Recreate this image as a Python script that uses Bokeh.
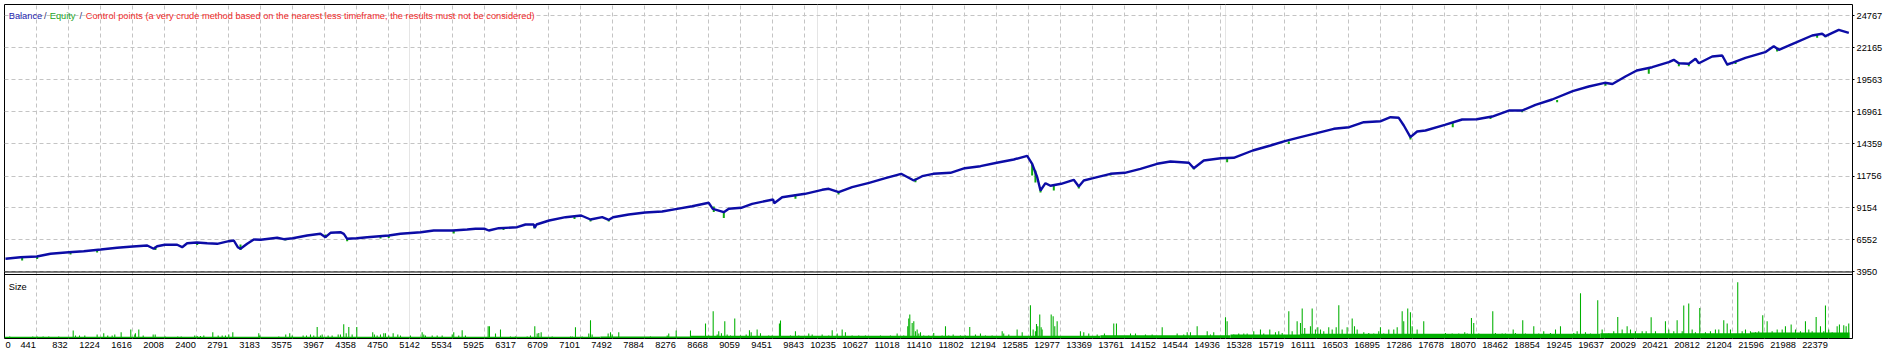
from bokeh.plotting import figure
from bokeh.models import Range1d, FixedTicker, Span, Label, Grid, LinearAxis
from bokeh.embed import file_html
from bokeh.resources import INLINE

# ---------------- data ----------------
x_tick_values = [441, 832, 1224, 1616, 2008, 2400, 2791, 3183, 3575, 3967, 4358, 4750, 5142,
                 5534, 5925, 6317, 6709, 7101, 7492, 7884, 8276, 8668, 9059, 9451, 9843, 10235,
                 10627, 11018, 11410, 11802, 12194, 12585, 12977, 13369, 13761, 14152, 14544,
                 14936, 15328, 15719, 16111, 16503, 16895, 17286, 17678, 18070, 18462, 18854,
                 19245, 19637, 20029, 20421, 20812, 21204, 21596, 21988, 22379]
x_tick_labels = [str(v) for v in x_tick_values]
y_tick_values = [3950, 6552, 9154, 11756, 14359, 16961, 19563, 22165, 24767]
y_tick_labels = ["3950", "6552", "9154", "11756", "14359", "16961", "19563", "22165", "24767"]

balance_trade = [58, 241, 441, 609, 833, 1016, 1224, 1425, 1616, 1793, 1873, 1915, 2008, 2160, 2221,
                 2282, 2400, 2527, 2650, 2792, 2853, 2902, 2935, 3017, 3098, 3183, 3384, 3465, 3575,
                 3751, 3914, 3975, 4037, 4159, 4200, 4241, 4359, 4486, 4750, 4894, 5142, 5301, 5534,
                 5710, 5812,
                 5926, 5975, 6097, 6322, 6424, 6525, 6538, 6559, 6714, 6914, 7106, 7220, 7363, 7444,
                 7497, 7688, 7889, 8097, 8281, 8465, 8668, 8717, 8852, 8913, 9065, 9199, 9456, 9469,
                 9566, 9848, 10056, 10137, 10259, 10423, 10631, 10831, 11023, 11178, 11280, 11415, 11627,
                 11802, 11994, 12194, 12402, 12566, 12627, 12689, 12729, 12790, 12851, 12982, 13136,
                 13198, 13259, 13374, 13586, 13761, 13953, 14157, 14320, 14545, 14606, 14728, 14936,
                 15095, 15328, 15545, 15720, 15912, 16111, 16320, 16508, 16687, 16895, 17014, 17115,
                 17177, 17258, 17340, 17442,
                 17679, 17891, 18070, 18259, 18462, 18626, 18789, 18993, 19245, 19441, 19637, 19731,
                 19890, 20029, 20218, 20421, 20482, 20543, 20666, 20748, 20789, 20952, 21075, 21136,
                 21205, 21359, 21601, 21706, 21768, 21988, 22176, 22299, 22339, 22502, 22625]
balance_value = [5023, 5153, 5210, 5430, 5560, 5641, 5779, 5917, 6023, 6105, 5836, 6048, 6162, 6162, 5966,
                 6291, 6349, 6291, 6243, 6454, 6511, 5966, 5836, 6243, 6593, 6568, 6731, 6617, 6698,
                 6918, 7056, 6779, 7137, 7186, 7056, 6649, 6698, 6779, 6918, 7056, 7186, 7324, 7324,
                 7406, 7462,
                 7462, 7324, 7512, 7593, 7812, 7812, 7544, 7812, 8137, 8406, 8544, 8219, 8406, 8194,
                 8406, 8625, 8788, 8869, 9088, 9300, 9577, 9088, 8812, 9088, 9170, 9495, 9845, 9544,
                 10032, 10309, 10634, 10715, 10439, 10845, 11203, 11577, 11935, 11390, 11740, 11935, 12016,
                 12390, 12553, 12830, 13098, 13399, 12748, 11658, 10577, 11171, 10959, 11122, 11447,
                 10902, 11390, 11577, 11935, 12016, 12341, 12748, 12935, 12830, 12390, 13016, 13203,
                 13236, 13830, 14236, 14586, 14911, 15236, 15594, 15724, 16131, 16212, 16537, 16489,
                 15862, 14911, 15375, 15456,
                 15919, 16350, 16375, 16594, 17082, 17082, 17546, 17977, 18652, 19034, 19335, 19237,
                 19847, 20335, 20603, 21010, 21205, 20928, 20880, 21286, 20928, 21473, 21555, 20823,
                 20985, 21368, 21823, 22311, 22018, 22636, 23181, 23319, 23124, 23644, 23400]

equity_trade = [262, 446, 854, 1180, 1894, 2405, 2935, 3486, 3975, 4241, 4649, 4750, 5546, 6155, 6534,
                7024, 7220, 7444, 8729, 8852, 9729, 10256, 11198, 12627, 12667, 12729, 12892, 13198,
                13586, 14606, 15014, 15769, 17258, 17776, 18238, 18626, 19054, 19646, 20176, 20544,
                20666, 21136, 21238, 21747, 22237, 22339]
equity_high = [5169, 5210, 5576, 5739, 6023, 6349, 6186, 6714, 6999, 6714, 6877, 6918, 7324, 7528, 7812,
               8503, 8219, 8219, 9276, 8869, 10252, 10496, 11553, 12772, 12203, 10658, 11024, 10984,
               11919, 12447, 13220, 14561, 14968, 16106, 16554, 17082, 17936, 19359, 20538, 20985,
               20863, 20904, 21026, 22164, 23262, 23222]
equity_low = [4885, 5007, 5373, 5535, 5739, 6145, 5739, 6511, 6714, 6454, 6674, 6714, 7080, 7365, 7487,
              8259, 8056, 8056, 8829, 8341, 9902, 10252, 11252, 11797, 11227, 10414, 10577, 10740,
              11797, 12285, 12878, 14358, 14724, 15724, 16391, 16944, 17757, 19091, 20067, 20685,
              20685, 20741, 20863, 21880, 22994, 23043]

# typical (small) trade size per stretch of trades
base_start = [46, 7342, 8444, 13463, 15055, 15912, 19585, 21421]
base_end = [7342, 8444, 13463, 15055, 15912, 19585, 21421, 22633]
base_lots = [0.06, 0.08, 0.11, 0.14, 0.17, 0.21, 0.24, 0.27]

size_trade = [
    110, 392, 446, 519, 588, 710, 887, 915, 964, 1029, 1180, 1261, 1310, 1364, 1396, 1474, 1592,
    1641, 1649, 1690, 1744, 1866, 1891, 2013, 2167, 2209, 2375, 2405, 2445, 2486, 2596, 2662, 2711,
    2751, 2792, 2841, 3159, 3171, 3404, 3489, 3538, 3568, 3702, 3743, 3792, 3832, 3874, 3914, 3935,
    4008, 4057, 4131, 4159, 4199, 4229, 4261, 4302, 4359, 4554, 4575, 4608, 4649, 4689, 4710, 4750,
    4804, 4861, 4894, 5016, 5159, 5179, 5200, 5282, 5343, 5404, 5527, 5546, 5607, 5649, 5689,
    5967, 5983, 6057, 6118, 6240, 6301, 6445, 6485, 6538, 6567, 6587, 6616, 6751, 6975, 6996, 7036,
    7118, 7199, 7220, 7240, 7436, 7465, 7485, 7566, 7954, 8159, 8178, 8269, 8444, 8628, 8668, 8722,
    8771, 8790, 8823, 8864, 8893, 8934, 8986, 9056, 9126, 9166, 9187, 9260, 9301, 9402, 9444, 9533,
    9546, 9668, 9729, 9770, 9892, 9934, 10056, 10137, 10179, 10240, 10301, 10341, 10423, 10504,
    10586, 10770, 10892, 10974, 11055, 11104, 11116, 11129, 11158, 11178, 11198, 11219, 11239,
    11260, 11300, 11361, 11422, 11525, 11566, 11606,
    11660, 11749, 11810, 11863, 11933, 11994, 12055, 12137, 12260, 12279, 12341, 12443, 12505,
    12606, 12639, 12667, 12680, 12696, 12720, 12737, 12749, 12860, 12884, 12904, 12933, 13218,
    13259, 13320, 13423, 13512, 13626, 13659, 13831, 13892, 14014, 14096, 14219, 14402, 14483,
    14525, 14565, 14647, 14770, 14810, 14850, 14994, 15014, 15095, 15156, 15218, 15259, 15340,
    15422, 15462, 15536, 15606, 15646, 15688, 15769, 15810, 15871, 15912, 15933, 15964, 16034,
    16055, 16095, 16124, 16157, 16197, 16258, 16300, 16349, 16381, 16422, 16483, 16545, 16573,
    16606, 16687, 16748, 16809, 16870, 16891, 16931, 16993, 17054, 17096, 17157, 17176, 17225,
    17258, 17279, 17340, 17421,
    17687, 17769, 17850, 17923, 17953, 18005, 18033, 18095, 18156, 18266, 18299, 18381, 18421,
    18462, 18516, 18544, 18633, 18666, 18768, 18829, 18890, 18972, 19034, 19095, 19258, 19299,
    19340, 19401, 19462, 19551, 19605, 19686, 19747, 19796, 19850, 19911, 19952, 20013, 20095,
    20144, 20205, 20258, 20380, 20421, 20482, 20523, 20585, 20604, 20665, 20707, 20747, 20800,
    20870, 20931, 20992, 21033, 21094, 21136, 21176, 21265, 21319, 21360, 21421, 21482, 21522,
    21571, 21625, 21686, 21748, 21809, 21849, 21919, 21972, 22033, 22094, 22135, 22176, 22225,
    22278, 22318, 22339, 22379, 22421, 22482, 22510, 22563, 22592, 22624]
size_lots = [
    0.08, 0.08, 0.08, 0.08, 0.08, 0.08, 0.37, 0.12, 0.12, 0.12, 0.17, 0.24, 0.12, 0.12, 0.17, 0.29, 0.42,
    0.17, 0.24, 0.42, 0.12, 0.17, 0.17, 0.08, 0.08, 0.08, 0.12, 0.10, 0.10, 0.12, 0.29, 0.12, 0.12,
    0.12, 0.17, 0.29, 0.24, 0.12, 0.08, 0.17, 0.24, 0.12, 0.12, 0.12, 0.17, 0.12, 0.55, 0.12, 0.17,
    0.12, 0.12, 0.17, 0.17, 0.69, 0.24, 0.55, 0.17, 0.55, 0.29, 0.17, 0.12, 0.17, 0.24, 0.24, 0.12,
    0.24, 0.17, 0.12, 0.12, 0.29, 0.17, 0.12, 0.12, 0.12, 0.12, 0.17, 0.29, 0.12, 0.39, 0.12,
    0.59, 0.59, 0.22, 0.42, 0.08, 0.08, 0.08, 0.12, 0.59, 0.22, 0.25, 0.29, 0.08, 0.08, 0.08, 0.54,
    0.08, 0.22, 0.89, 0.17, 0.22, 0.29, 0.17, 0.29, 0.08, 0.12, 0.22, 0.37, 0.37, 0.72, 0.12, 1.34,
    0.17, 0.34, 0.24, 0.84, 0.17, 0.12, 0.97, 0.12, 0.17, 0.39, 0.29, 0.42, 0.24, 0.12, 0.12, 0.72,
    0.87, 0.12, 0.34, 0.12, 0.22, 0.17, 0.17, 0.12, 0.39, 0.22, 0.42, 0.29, 0.12, 0.12,
    0.12, 0.12, 0.12, 0.22, 0.12, 0.59, 0.97, 1.17, 0.75, 0.84, 0.34, 0.42, 0.22,
    0.29, 0.12, 0.12, 0.25, 0.12, 0.59, 0.12,
    0.17, 0.12, 0.12, 0.55, 0.17, 0.22, 0.12, 0.12, 0.34, 0.22, 0.17, 0.42, 0.29,
    1.64, 0.42, 0.34, 0.70, 0.59, 1.17, 0.54, 0.42, 1.17, 1.09, 0.59, 0.84, 0.34,
    0.29, 0.22, 0.17, 0.22, 0.72, 0.72, 0.22, 0.22, 0.17, 0.17, 0.54, 0.22, 0.17,
    0.29, 0.29, 0.59, 0.34, 0.17, 0.29, 1.04, 0.84, 0.17, 0.22, 0.22, 0.22, 0.34,
    0.42, 0.22, 0.42, 0.29, 0.34, 0.25, 1.34, 0.34, 0.84, 0.75, 1.47, 0.50, 0.59,
    1.47, 0.42, 0.54, 0.42, 0.34, 0.54, 0.42, 0.54, 1.64, 0.42, 0.54, 0.97, 0.59,
    0.42, 0.29, 0.25, 0.22, 0.34, 0.54, 0.22, 0.42, 0.42, 0.54, 1.34, 0.84, 1.47,
    1.29, 0.59, 0.42, 0.84,
    0.25, 0.22, 0.22, 0.29, 0.22, 1.00, 0.75, 0.22, 0.17, 1.34, 0.25, 0.22, 0.22,
    0.17, 0.42, 0.25, 0.89, 0.22, 0.59, 0.22, 0.34, 0.25, 0.42, 0.59, 0.25, 0.34,
    2.24, 0.29, 0.22, 1.89, 0.42, 0.22, 0.34, 1.05, 0.42, 0.59, 0.42, 0.34, 0.34,
    0.34, 1.04, 0.34, 0.84, 0.42, 0.34, 0.89, 0.34, 1.62, 1.72, 0.42, 0.29, 1.50,
    0.29, 0.34, 0.42, 0.42, 0.89, 0.72, 0.42, 2.79, 0.34, 0.42, 0.34, 0.29, 0.34,
    1.14, 0.84, 0.34, 0.42, 0.42, 0.59, 0.67, 0.42, 0.34, 0.84, 0.42, 0.34, 1.05,
    0.59, 0.34, 1.62, 0.42, 0.29, 0.59, 0.67, 0.64, 0.59, 0.72]
assert len(size_trade) == len(size_lots)
assert len(balance_trade) == len(balance_value)

# ---------------- styling ----------------
FONT = "Liberation Sans"
FS = "9.25px"
GRID = "#c4c4c4"
BAL = "#0c0ca6"
EQ = "#10a810"
SIZE = "#00b000"

X0, X1 = 46, 22670
FRAME_W = 1848
TPP = (X1 - X0) / FRAME_W      # trades per pixel
DIGIT_W = 5.1                  # approx width of one digit in pixels

p = figure(frame_width=FRAME_W, frame_height=334, min_border_left=4, min_border_top=4,
           min_border_right=44, min_border_bottom=18, title=None,
           x_range=Range1d(X0, X1), y_range=Range1d(-1458, 25702),
           x_axis_location=None, y_axis_location="right",
           output_backend="svg", toolbar_location=None)
p.extra_y_ranges = {"size": Range1d(-0.025, 16.675)}
p.background_fill_color = "white"
p.border_fill_color = "white"
p.outline_line_color = "black"
p.outline_line_width = 1
p.outline_line_alpha = 1.0

ax = p.yaxis[0]
ax.ticker = FixedTicker(ticks=y_tick_values)
ax.major_label_overrides = {v: s for v, s in zip(y_tick_values, y_tick_labels)}
ax.major_tick_out = 2
ax.major_tick_in = 0
ax.minor_tick_line_color = None
ax.axis_line_color = None
ax.major_tick_line_color = "black"
ax.major_label_standoff = 2
ax.major_label_text_font = FONT
ax.major_label_text_font_size = FS
ax.major_label_text_color = "black"

# x labels: the terminal right-aligns each label to its grid line, so the label
# centres sit half a label width (plus 1px) to the left of the grid line.
lab_pos = [int(round(X0 + 3.5 * TPP))]
lab_txt = ["0"]
for v, s in zip(x_tick_values, x_tick_labels):
    lab_pos.append(int(round(v - (1 + DIGIT_W * len(s) / 2) * TPP)))
    lab_txt.append(s)
xax = LinearAxis(ticker=FixedTicker(ticks=lab_pos),
                 major_label_overrides={k: t for k, t in zip(lab_pos, lab_txt)},
                 axis_line_color=None, major_tick_line_color=None, minor_tick_line_color=None,
                 major_tick_out=0, major_tick_in=0, major_label_standoff=3,
                 major_label_text_font=FONT, major_label_text_font_size=FS,
                 major_label_text_color="black")
p.add_layout(xax, "below")

p.ygrid.grid_line_color = GRID
p.ygrid.grid_line_dash = "4 3"
p.add_layout(Grid(dimension=0, ticker=FixedTicker(ticks=x_tick_values),
                  grid_line_color=GRID, grid_line_dash="4 3"))

# panel separator (bottom of balance panel / top of size panel)
p.add_layout(Span(location=y_tick_values[0], dimension="width", line_color="black", line_width=1))
p.add_layout(Span(location=3.175, dimension="width", line_color="black", line_width=1,
                  y_range_name="size"))

# size panel
p.quad(left=base_start, right=base_end, bottom=0, top=base_lots, fill_color=SIZE,
       line_color=None, y_range_name="size")
p.vbar(x=size_trade, top=size_lots, bottom=0, width=13, fill_color=SIZE, line_color=None,
       y_range_name="size")

# equity excursions and balance line
p.segment(x0=equity_trade, y0=equity_high, x1=equity_trade, y1=equity_low,
          line_color=EQ, line_width=2)
p.line(balance_trade, balance_value, line_color=BAL, line_width=2.4)

# legend texts
legend = [("Balance", 98, "#2424b0"), ("/", 529, "#303070"), ("Equity", 600, "#1ea41e"),
          ("/", 964, "#303070"),
          ("Control points (a very crude method based on the nearest less timeframe, the results must not be considered)",
           1041, "#f02a2a")]
for txt, xx, col in legend:
    p.add_layout(Label(x=xx, y=24750, text=txt, text_color=col, text_font=FONT,
                       text_font_size=FS, text_baseline="alphabetic", text_align="left"))
p.add_layout(Label(x=98, y=2.54, y_range_name="size", text="Size", text_color="black",
                   text_font=FONT, text_font_size=FS, text_baseline="alphabetic"))

open("out.html", "w").write(file_html(p, INLINE))
